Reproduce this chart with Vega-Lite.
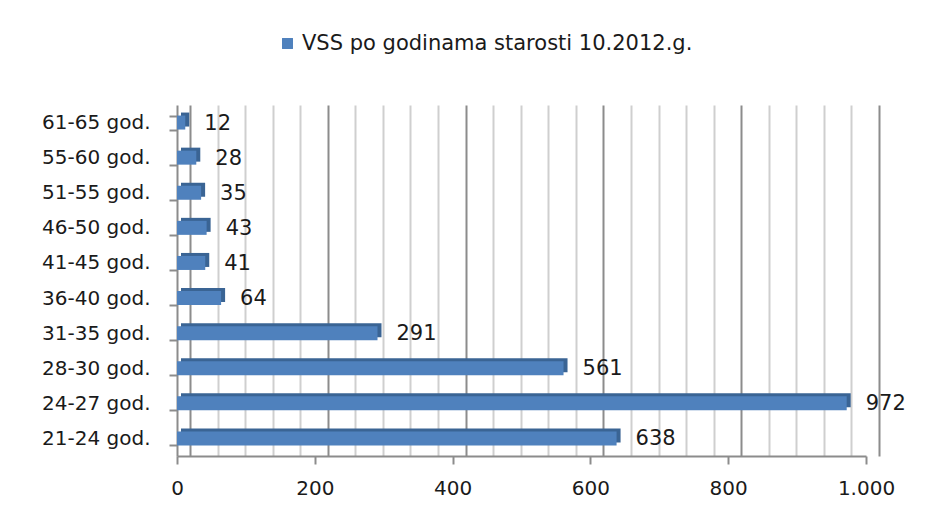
{
  "$schema": "https://vega.github.io/schema/vega-lite/v6.json",
  "autosize": {"type": "none"},
  "padding": {"left": 177, "top": 105, "right": 72, "bottom": 57},
  "width": 689,
  "height": 351,
  "background": "white",
  "config": {
    "view": {"stroke": null},
    "font": "DejaVu Sans",
    "axis": {"labelFont": "DejaVu Sans", "labelFontSize": 20, "labelColor": "#1a1a1a"}
  },
  "data": {
    "values": [
      {"group": "61-65 god.", "value": 12, "series": "VSS po godinama starosti 10.2012.g."},
      {"group": "55-60 god.", "value": 28, "series": "VSS po godinama starosti 10.2012.g."},
      {"group": "51-55 god.", "value": 35, "series": "VSS po godinama starosti 10.2012.g."},
      {"group": "46-50 god.", "value": 43, "series": "VSS po godinama starosti 10.2012.g."},
      {"group": "41-45 god.", "value": 41, "series": "VSS po godinama starosti 10.2012.g."},
      {"group": "36-40 god.", "value": 64, "series": "VSS po godinama starosti 10.2012.g."},
      {"group": "31-35 god.", "value": 291, "series": "VSS po godinama starosti 10.2012.g."},
      {"group": "28-30 god.", "value": 561, "series": "VSS po godinama starosti 10.2012.g."},
      {"group": "24-27 god.", "value": 972, "series": "VSS po godinama starosti 10.2012.g."},
      {"group": "21-24 god.", "value": 638, "series": "VSS po godinama starosti 10.2012.g."}
    ]
  },
  "encoding": {
    "y": {
      "field": "group", "type": "nominal", "sort": null,
      "scale": {"paddingInner": 0.6, "paddingOuter": 0.3},
      "axis": {
        "title": null, "tickBand": "extent", "domainColor": "#8c8c8c", "domainWidth": 2,
        "tickColor": "#8c8c8c", "tickWidth": 2, "tickSize": 8, "labelPadding": 19, "grid": false
      }
    }
  },
  "layer": [
    {
      "mark": {"type": "tick", "opacity": 0},
      "encoding": {
        "x": {
          "field": "value", "type": "quantitative",
          "scale": {"domain": [0, 1000], "range": [13, 702], "nice": false, "zero": false},
          "axis": {
            "orient": "bottom", "title": null, "labels": false, "ticks": false, "domain": false,
            "grid": true, "gridWidth": 2,
            "values": [0,40,80,120,160,200,240,280,320,360,400,440,480,520,560,600,640,680,720,760,800,840,880,920,960,1000],
            "gridColor": {"condition": {"test": "datum.value % 200 === 0", "value": "#8c8c8c"}, "value": "#cfcfcf"}
          }
        }
      }
    },
    {
      "layer": [
        {
          "mark": {"type": "bar", "color": "#3A6494", "size": 14, "xOffset": 4, "x2Offset": 4, "yOffset": -3, "y2Offset": -3},
          "encoding": {
            "x": {"field": "value", "type": "quantitative"}
          }
        },
        {
          "mark": {"type": "bar", "color": "#4F81BD", "size": 14},
          "encoding": {
            "x": {"field": "value", "type": "quantitative"},
            "fill": {
              "field": "series", "type": "nominal",
              "scale": {"range": ["#4F81BD"]},
              "legend": {
                "title": null, "orient": "none", "legendX": 100, "legendY": -72,
                "symbolType": "square", "symbolSize": 120, "symbolStrokeWidth": 0,
                "labelFont": "DejaVu Sans", "labelFontSize": 21, "labelColor": "#1a1a1a", "labelLimit": 700
              }
            }
          }
        },
        {
          "mark": {"type": "text", "align": "left", "baseline": "middle", "dx": 19, "dy": 1, "fontSize": 21, "font": "DejaVu Sans", "color": "#1a1a1a"},
          "encoding": {
            "x": {"field": "value", "type": "quantitative"},
            "text": {"field": "value", "type": "quantitative"}
          }
        }
      ],
      "encoding": {
        "x": {
          "field": "value", "type": "quantitative",
          "scale": {"domain": [0, 1000], "nice": false},
          "axis": {
            "orient": "bottom", "title": null, "grid": false, "values": [0,200,400,600,800,1000],
            "labelExpr": "replace(format(datum.value, ','), ',', '.')", "labelFlush": false,
            "domainColor": "#8c8c8c", "domainWidth": 2, "tickColor": "#8c8c8c", "tickWidth": 2, "tickSize": 8, "labelPadding": 14
          }
        }
      }
    }
  ],
  "resolve": {"scale": {"x": "independent"}}
}
